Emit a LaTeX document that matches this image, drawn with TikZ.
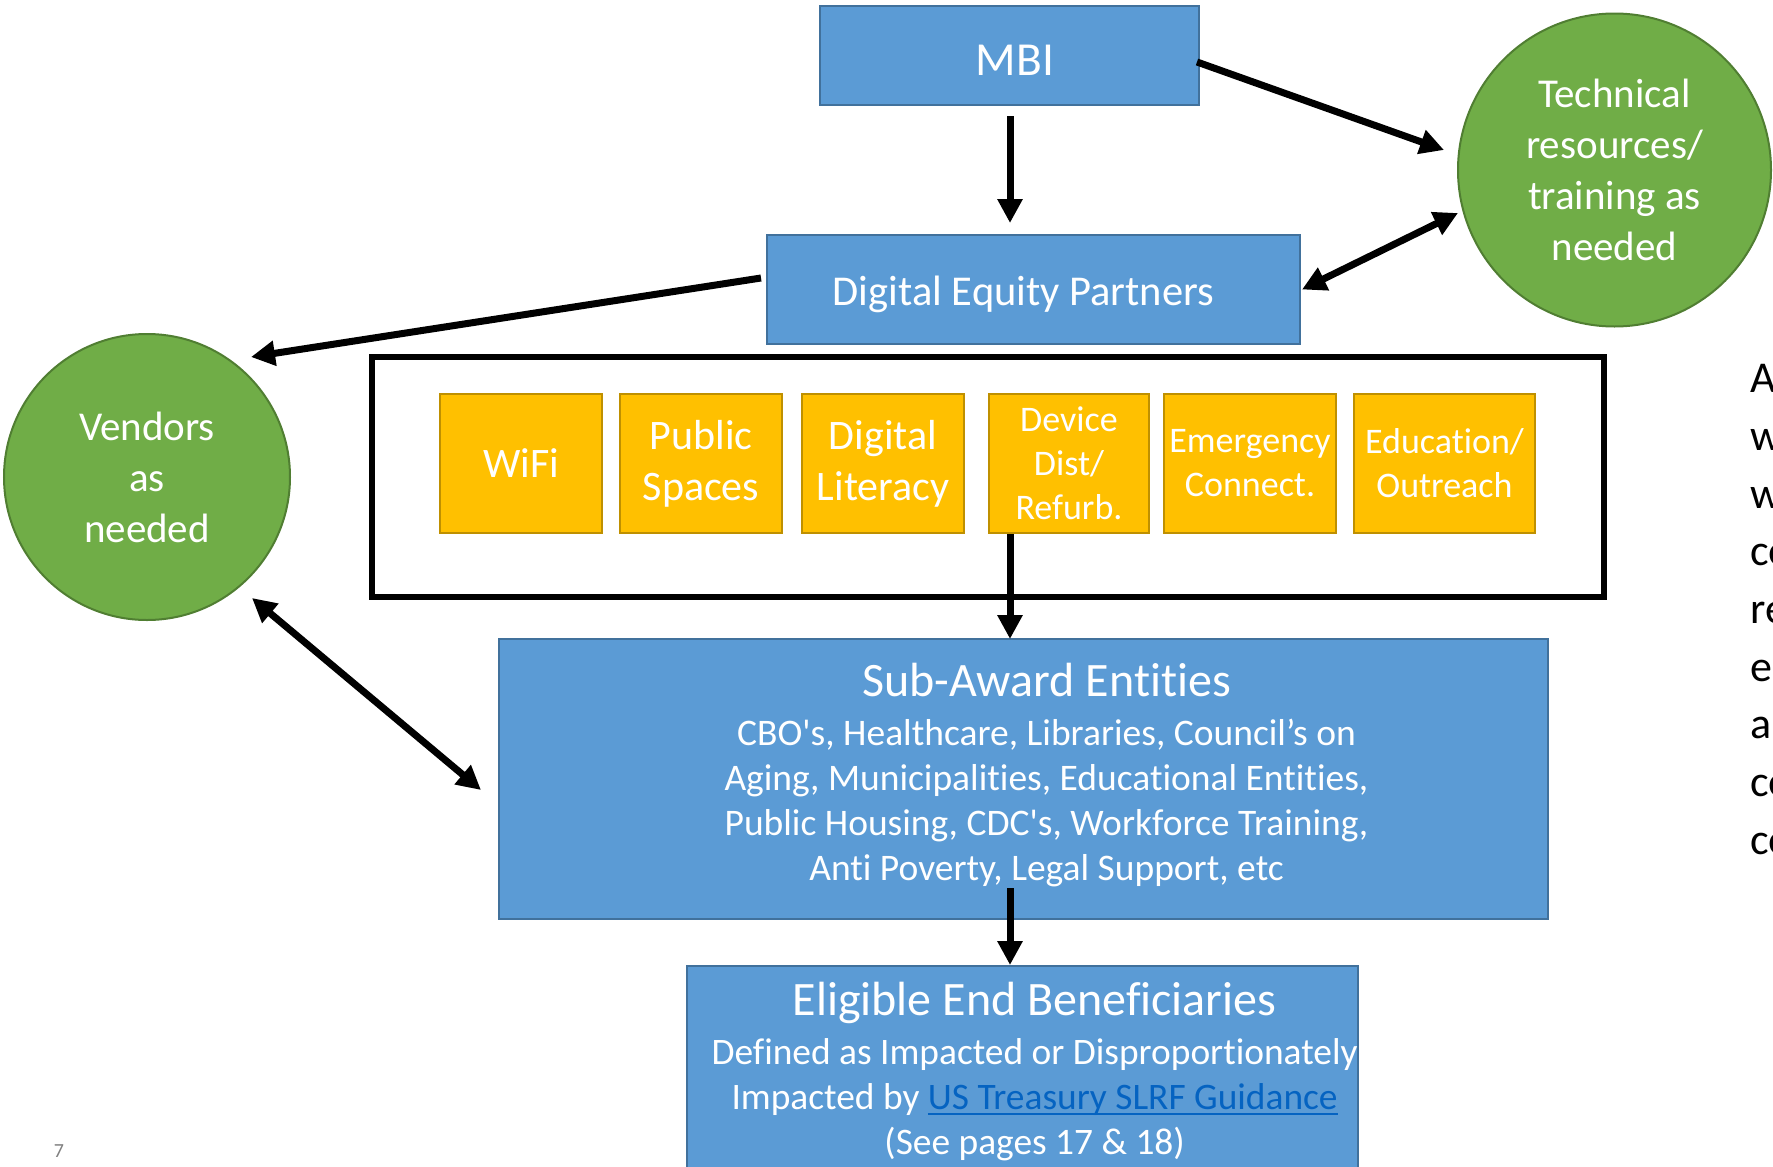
\documentclass[tikz,border=0pt]{standalone}
\usepackage{fontspec}
\setmainfont{Carlito}[Ligatures={TeXOff,CommonOff}]
\usetikzlibrary{arrows.meta,calc}
\definecolor{boxblue}{HTML}{5B9BD5}
\definecolor{boxblueline}{HTML}{41719C}
\definecolor{circgreen}{HTML}{70AD47}
\definecolor{circgreenline}{HTML}{507E32}
\definecolor{tileyellow}{HTML}{FFC000}
\definecolor{tileline}{HTML}{BF9000}
\definecolor{linkblue}{HTML}{0563C1}
\newcommand\myul[1]{\setbox0\hbox{#1}\rlap{\rule[-5pt]{\wd0}{2pt}}\box0}
\begin{document}
\begin{tikzpicture}[x=1pt,y=-1pt,
  bluebox/.style={draw=boxblueline, line width=2pt, fill=boxblue, text=white, align=center, inner sep=0pt},
  whitetext/.style={text=white, align=center, inner sep=0pt},
  greencirc/.style={circle, draw=circgreenline, line width=2pt, fill=circgreen, text=white, align=center, inner sep=0pt, font=\fontsize{41}{51}\selectfont},
  tile/.style={draw=tileline, line width=2pt, fill=tileyellow, text=white, align=center, inner sep=0pt, minimum height=139pt},
  bigtile/.style={tile, font=\fontsize{42}{51}\selectfont},
  smalltile/.style={tile, font=\fontsize{36}{44}\selectfont},
  arr/.style={line width=7pt, -{Triangle[length=24pt,width=24pt]}},
  darr/.style={line width=7pt, {Triangle[length=24pt,width=24pt]}-{Triangle[length=24pt,width=24pt]}},
]
\useasboundingbox (0,0) rectangle (1773,1167);
\fill[white] (0,0) rectangle (1773,1167);

% top boxes
\node[bluebox, minimum width=379pt, minimum height=99pt, font=\fontsize{47.4}{56}\selectfont] (mbi) at (1009.5,55.5)
  {\raisebox{-4.5pt}[\height][\depth]{\hspace*{11pt}MBI}};
\node[bluebox, minimum width=533pt, minimum height=109pt, font=\fontsize{42.5}{51}\selectfont] (dep) at (1033.5,289.5)
  {\raisebox{-4.5pt}[\height][\depth]{\hspace*{-20pt}Digital Equity Partners}};

% circles
\node[greencirc, minimum size=313pt] (tech) at (1614.5,170) {Technical\\resources/\\training as\\needed};
\node[greencirc, minimum size=286pt] (vend) at (147,477) {Vendors\\as\\needed};

% frame with tiles
\node[draw=black, line width=6pt, minimum width=1232pt, minimum height=240pt, inner sep=0pt] (frame) at (988,477) {};
\node[bigtile, minimum width=162pt] (wifi) at (521,463.5) {WiFi};
\node[bigtile, minimum width=162pt] (pub) at (701,463.5) {Public\\Spaces};
\node[bigtile, minimum width=162pt] (dlit) at (883,463.5) {Digital\\Literacy};
\node[smalltile, minimum width=160pt] (dev) at (1069,463.5) {Device\\Dist/\\Refurb.};
\node[smalltile, minimum width=172pt] (emer) at (1250,463.5) {Emergency\\Connect.};
\node[smalltile, minimum width=181pt] (edu) at (1444.5,463.5) {Education/\\Outreach};

% sub-award
\node[bluebox, minimum width=1049pt, minimum height=280pt] (sub) at (1023.5,779) {};
\node[whitetext, font=\fontsize{37.5}{45}\selectfont] (subtxt) at (1046.5,775)
  {{\fontsize{48}{56}\selectfont Sub-Award Entities}\\[4pt]
   CBO's, Healthcare, Libraries, Council’s on\\
   Aging, Municipalities, Educational Entities,\\
   Public Housing, CDC's, Workforce Training,\\
   Anti Poverty, Legal Support, etc};

% eligible
\node[bluebox, minimum width=671pt, minimum height=240pt] (elig) at (1022.5,1086) {};
\node[whitetext, font=\fontsize{37.4}{45}\selectfont] (eligtxt) at (1034.6,1072)
  {{\fontsize{48}{56}\selectfont Eligible End Beneficiaries}\\[4pt]
   Defined as Impacted or Disproportionately\\
   Impacted by {\color{linkblue}\myul{US Treasury SLRF Guidance}}\\
   (See pages 17 \& 18)};

% right edge cut-off text
\foreach \t [count=\i] in {A,w,w,co,re,e,a,co,co}
  \node[anchor=base west, inner sep=0pt, font=\fontsize{44}{53}\selectfont] (edge\i) at (1750,{392.6+57.7*(\i-1)}) {\t};

% page number
\node[anchor=base, inner sep=0pt, text=gray, font=\fontsize{20}{24}\selectfont] (pnum) at (59,1157) {7};

% connectors
\draw[arr] ($(mbi.south)+(0.5,10)$) -- ($(mbi.south |- dep.north)+(0.5,-11)$);
\draw[arr] ($(mbi.east)+(-3,6.5)$) -- ($(tech.center)+(-170.5,-20)$);
\draw[darr] ($(dep.east)+(1,0)$) -- ($(tech.center)+(-156.5,43)$);
\draw[arr] ($(dep.west)+(-5,-11.5)$) -- ($(vend.center)+(104,-120)$);
\draw[darr] ($(vend.center)+(105,121)$) -- ($(sub.west)+(-17,11)$);
\draw[arr] ($(dev.south -| mbi.south)+(0.5,0)$) -- ($(sub.north -| mbi.south)+(0.5,1)$);
\draw[arr] ($(sub.south -| mbi.south)+(0.5,-32)$) -- ($(elig.north -| mbi.south)+(0.5,0)$);
\end{tikzpicture}
\end{document}
